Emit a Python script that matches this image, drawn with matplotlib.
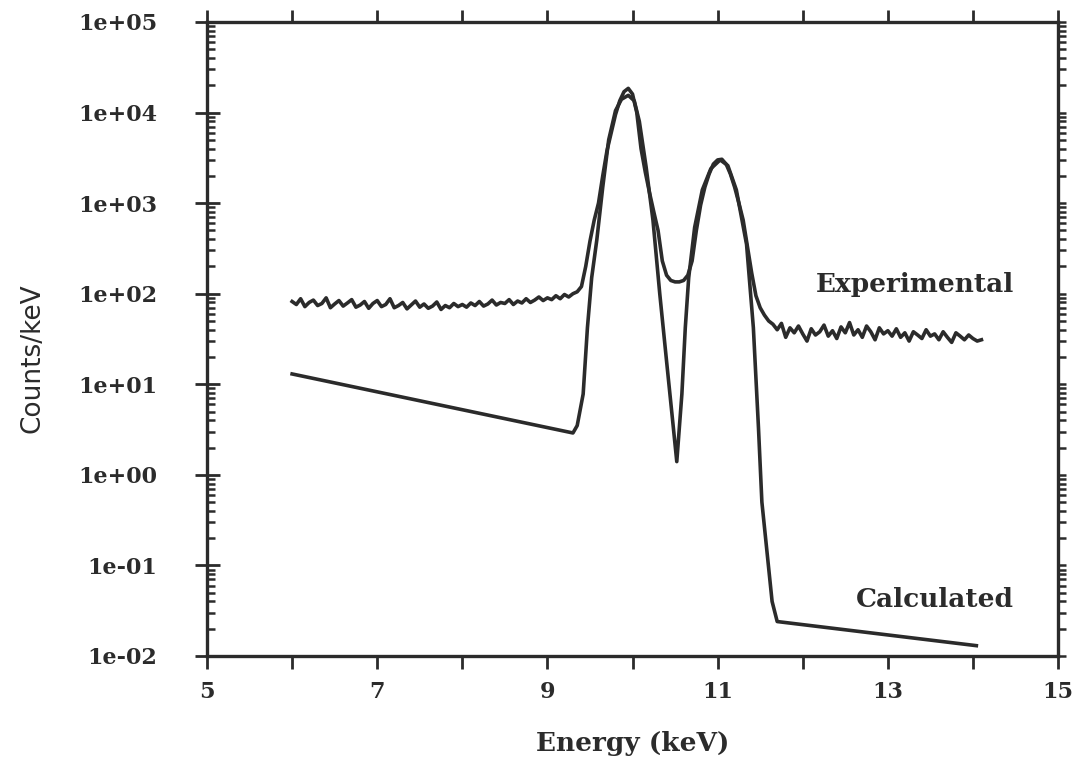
import numpy as np
import matplotlib
matplotlib.use("Agg")
import matplotlib.pyplot as plt
from matplotlib.ticker import LogLocator, FixedLocator, NullFormatter

# experimental spectrum, channels every 0.05 keV from 6.00 to 14.10
e_exp = np.round(np.arange(6.0, 14.1001, 0.05), 2)
c_exp = [
    # 6.00 - 6.95
    82, 76, 88, 72, 80, 85, 74, 78, 90, 70, 77, 84, 73, 79, 86, 71, 75, 82, 69, 78,
    # 7.00 - 7.95
    84, 72, 76, 88, 70, 74, 80, 68, 75, 83, 71, 77, 69, 73, 81, 67, 74, 70, 78, 72,
    # 8.00 - 8.95
    76, 71, 79, 74, 82, 73, 77, 85, 75, 80, 78, 86, 76, 83, 79, 88, 80, 85, 92, 84,
    # 9.00 - 9.95
    90, 86, 95, 88, 98, 92, 100, 105, 120, 200, 380, 650, 1000, 2000, 3800, 6000,
    9500, 13500, 17000, 18500,
    # 10.00 - 10.95
    16000, 10000, 4000, 2200, 1300, 800, 500, 230, 160, 140, 135, 135, 140, 160,
    230, 500, 950, 1500, 2100, 2700,
    # 11.00 - 11.95
    3000, 3050, 2700, 2100, 1500, 1000, 650, 330, 170, 95, 70, 58, 50, 46, 40, 47,
    33, 42, 37, 44,
    # 12.00 - 12.95
    36, 30, 41, 35, 38, 45, 34, 39, 32, 43, 37, 48, 35, 40, 33, 44, 38, 31, 42, 36,
    # 13.00 - 13.95
    39, 34, 41, 33, 37, 30, 38, 35, 32, 40, 34, 36, 31, 38, 33, 29, 37, 34, 31, 35,
    # 14.00 - 14.10
    32, 30, 31,
]

# calculated spectrum
e_calc = [6.00, 9.30, 9.35, 9.42, 9.47, 9.52, 9.58, 9.65, 9.72, 9.80, 9.87, 9.95,
          10.02, 10.08, 10.16, 10.24, 10.32, 10.40, 10.48, 10.52, 10.58, 10.62,
          10.66, 10.73, 10.82, 10.92, 11.03, 11.12, 11.22, 11.34, 11.42, 11.48,
          11.52, 11.64, 11.70, 14.04]
c_calc = [13, 2.9, 3.5, 7.8, 42, 150, 390, 1500, 5000, 10500, 14000, 15500,
          13500, 8000, 2500, 650, 100, 18, 3.3, 1.4, 7.8, 42,
          150, 540, 1400, 2400, 3000, 2600, 1400, 350, 42, 3.3,
          0.5, 0.04, 0.024, 0.013]

x_ticks = [5, 7, 9, 11, 13, 15]
y_ticks = [1e-2, 1e-1, 1e0, 1e1, 1e2, 1e3, 1e4, 1e5]
y_labels = ["1e-02", "1e-01", "1e+00", "1e+01", "1e+02", "1e+03", "1e+04", "1e+05"]

ink = "#2b2b2b"
serif = ["DejaVu Serif"]

fig = plt.figure(figsize=(10.77, 7.8), dpi=100)
ax = fig.add_axes([0.1922, 0.159, 0.7902, 0.8128])

ax.plot(e_exp, c_exp, color=ink, lw=2.6, solid_joinstyle="round")
ax.plot(e_calc, c_calc, color=ink, lw=2.6, solid_joinstyle="round")

ax.set_yscale("log")
ax.set_xlim(5, 15)
ax.set_ylim(1e-2, 1e5)

ax.set_xticks(x_ticks)
ax.xaxis.set_minor_locator(FixedLocator([6, 8, 10, 12, 14]))
ax.set_yticks(y_ticks)
ax.set_yticklabels(y_labels)
ax.yaxis.set_minor_locator(LogLocator(base=10, subs=np.arange(2, 10), numticks=20))
ax.yaxis.set_minor_formatter(NullFormatter())

for s in ax.spines.values():
    s.set_linewidth(2.4)
    s.set_color(ink)

ax.tick_params(axis="x", which="both", direction="out", top=True, length=9,
               width=2, color=ink, pad=9)
ax.tick_params(axis="y", which="major", direction="inout", length=18, width=2,
               color=ink, pad=27, right=False)
ax.tick_params(axis="y", which="minor", direction="in", length=6, width=1.8,
               color=ink, right=False)

# right-hand axis ticks point outward
ax2 = ax.twinx()
ax2.set_yscale("log")
ax2.set_ylim(ax.get_ylim())
ax2.yaxis.set_minor_locator(LogLocator(base=10, subs=np.arange(2, 10), numticks=20))
ax2.tick_params(axis="y", which="both", direction="out", length=6, width=1.8,
                color=ink, labelright=False)
for s in ax2.spines.values():
    s.set_visible(False)

for lab in ax.get_xticklabels() + ax.get_yticklabels():
    lab.set_fontfamily(serif)
    lab.set_fontweight("bold")
    lab.set_fontsize(16)
    lab.set_color(ink)

ax.set_xlabel("Energy (keV)", fontsize=19, fontweight="bold", family=serif,
              color=ink, labelpad=20)
ax.set_ylabel("Counts/keV", fontsize=19, family=["DejaVu Sans"], color=ink)
ax.yaxis.set_label_coords(-0.19, 0.47)

ax.text(13.32, 126, "Experimental", fontsize=19, fontweight="bold", family=serif,
        color=ink, ha="center", va="center")
ax.text(13.55, 0.042, "Calculated", fontsize=19, fontweight="bold", family=serif,
        color=ink, ha="center", va="center")

fig.savefig("out.png", dpi=100, facecolor="white")
